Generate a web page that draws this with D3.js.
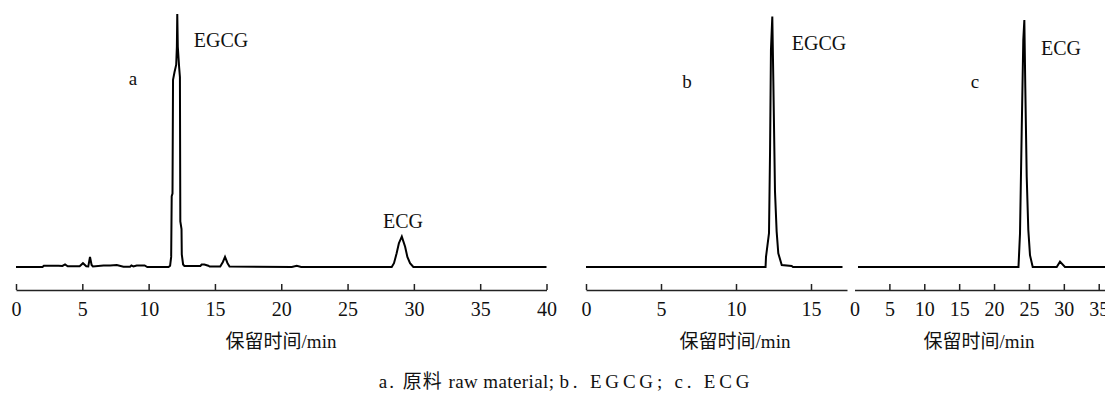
<!DOCTYPE html>
<html>
<head>
<meta charset="utf-8">
<script src="https://cdn.jsdelivr.net/npm/d3@7"></script>
<style>
  body { margin: 0; background: #fff; }
  text { font-family: "Liberation Serif", "Times New Roman", "Noto Sans CJK SC", serif; fill: #111; }
  .trace { fill: none; stroke: #000; stroke-width: 2; stroke-linejoin: miter; }
  .axis path, .axis line { stroke: #222; stroke-width: 1.5; }
  .axis text { font-size: 20px; font-family: "Liberation Serif", serif; fill: #111; }
</style>
</head>
<body>
<div id="viz"></div>
<script>
// retention time (min) and detector signal (% of full scale)
var rawTime   = [0, 2.0, 2.1, 3.2, 3.5, 3.7, 3.9, 4.8, 5.05, 5.3, 5.45, 5.58, 5.7, 5.8, 6.6, 7.1, 7.6, 8.1, 8.6, 8.7, 8.85, 9.1, 9.7, 9.9, 11.5,
                 11.62, 11.7, 11.74, 11.8, 11.84, 11.95, 12.08, 12.13, 12.16, 12.2, 12.3, 12.36, 12.39, 12.48, 12.5, 12.6,
                 12.7, 13.9, 14.0, 14.2, 14.5, 14.6, 15.4, 15.6, 15.76, 15.95, 16.1, 20.8, 21.17, 21.5,
                 28.33, 28.5, 28.7, 28.87, 29.09, 29.34, 29.51, 29.71, 29.96, 40];
var rawSignal = [0, 0, 0.5, 0.5, 0.4, 1, 0.3, 0.3, 1.5, 0.3, 0.2, 4, 0.8, 0.2, 0.6, 0.6, 0.8, 0.1, 0.1, 0.6, 0.2, 0.6, 0.6, 0, 0,
                 0.5, 4, 28, 29, 74, 77, 80, 87, 100, 87, 79, 75, 18, 15, 5, 1,
                 0.4, 0.4, 1, 1, 0.5, 0.2, 0.2, 2, 4, 1.5, 0.2, 0, 0.5, 0,
                 0, 1.5, 5.4, 9.4, 12, 8, 4, 1.5, 0, 0];

var egcgTime   = [0, 11.97, 12.0, 12.2, 12.27, 12.33, 12.42, 12.49, 12.6, 12.71, 12.82, 13.05, 13.71, 13.8, 17.1];
var egcgSignal = [0, 0, 4, 13.4, 45.6, 85.8, 99, 73.2, 29.8, 14, 5.4, 0.8, 0.4, 0, 0];

var ecgTime   = [0.5, 23.5, 23.72, 23.96, 24.19, 24.34, 24.48, 24.68, 24.91, 25.15, 25.54, 28.98, 29.45, 30.16, 36];
var ecgSignal = [0, 0, 13.3, 53.5, 89.7, 97.6, 70.6, 35.7, 14.6, 4.7, 0, 0, 2.1, 0, 0];

var rawTicks  = [0, 5, 10, 15, 20, 25, 30, 35, 40];
var egcgTicks = [0, 5, 10, 15];
var ecgTicks  = [0, 5, 10, 15, 20, 25, 30, 35];

var axisTitle = "保留时间/min";
// caption pieces: [text, letter spacing]
var caption   = [["a. ", 2], ["原料 ", 1], ["raw material; ", 0.4], ["b. EGCG; c. ECG", 3.8]];

var width = 1105,
    height = 395;

var svg = d3.select("#viz")
    .append("svg")
    .attr("width", width)
    .attr("height", height);

var y = d3.scaleLinear().domain([0, 100]).range([267, 14]);   // shared signal scale
var axisY = 290;

// one entry per chromatogram
var panels = [
  { time: rawTime,  signal: rawSignal,  ticks: rawTicks,  domain: [0, 40],   range: [16, 546.5],
    id: "a", idPos: [133, 85], peak: "EGCG", peakPos: [221, 47], peak2: "ECG", peak2Pos: [403, 228], titleX: 281 },
  { time: egcgTime, signal: egcgSignal, ticks: egcgTicks, domain: [0, 17.4], range: [586, 847],
    id: "b", idPos: [687, 88], peak: "EGCG", peakPos: [819, 50], titleX: 735 },
  { time: ecgTime,  signal: ecgSignal,  ticks: ecgTicks,  domain: [0, 36],   range: [854.5, 1105.7],
    id: "c", idPos: [975, 88], peak: "ECG", peakPos: [1061, 55], titleX: 979, noZeroTick: true }
];

panels.forEach(function(p) {
  var x = d3.scaleLinear().domain(p.domain).range(p.range);
  var pts = p.time.map(function(t, i) { return [t, p.signal[i]]; });

  var line = d3.line()
      .x(function(d) { return x(d[0]); })
      .y(function(d) { return y(d[1]); });

  svg.append("path")
      .datum(pts)
      .attr("class", "trace")
      .attr("d", line);

  // ****************** Axis section ***************************
  var axis = svg.append("g")
      .attr("class", "axis")
      .attr("transform", "translate(0," + axisY + ")")
      .call(d3.axisBottom(x)
          .tickValues(p.ticks)
          .tickFormat(d3.format("d"))
          .tickSizeInner(-6)
          .tickSizeOuter(0)
          .tickPadding(12));

  if (p.noZeroTick) {
    axis.selectAll(".tick line").filter(function(d) { return d === 0; }).remove();
  }

  svg.append("text")
      .attr("x", p.titleX)
      .attr("y", 348)
      .attr("text-anchor", "middle")
      .style("font-size", "19px")
      .text(axisTitle);

  // ****************** Label section ***************************
  svg.append("text")
      .attr("x", p.idPos[0])
      .attr("y", p.idPos[1])
      .attr("text-anchor", "middle")
      .style("font-size", "19px")
      .text(p.id);

  svg.append("text")
      .attr("x", p.peakPos[0])
      .attr("y", p.peakPos[1])
      .attr("text-anchor", "middle")
      .style("font-size", "20px")
      .text(p.peak);

  if (p.peak2) {
    svg.append("text")
        .attr("x", p.peak2Pos[0])
        .attr("y", p.peak2Pos[1])
        .attr("text-anchor", "middle")
        .style("font-size", "20px")
        .text(p.peak2);
  }
});

var cap = svg.append("text")
    .attr("x", 566)
    .attr("y", 388)
    .attr("text-anchor", "middle")
    .style("font-size", "19px");

cap.selectAll("tspan")
    .data(caption)
    .enter().append("tspan")
      .style("letter-spacing", function(d) { return d[1] + "px"; })
      .style("white-space", "pre")
      .text(function(d) { return d[0]; });
</script>
</body>
</html>
